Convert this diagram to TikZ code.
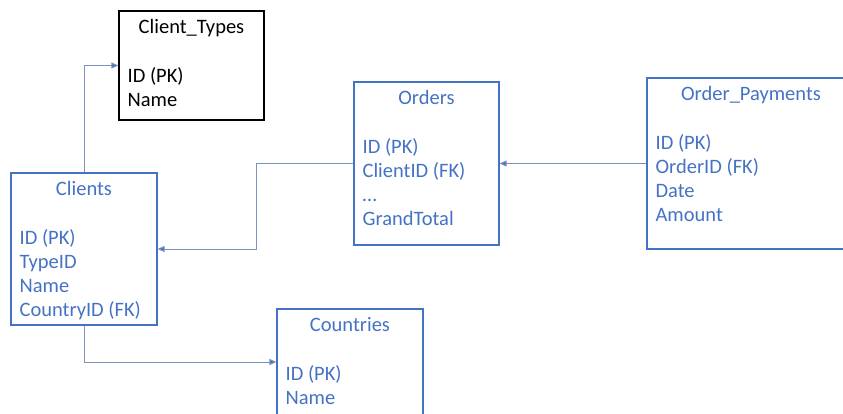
\documentclass[tikz,border=0pt]{standalone}
\usepackage{fontspec}
\setmainfont{Carlito}
\usetikzlibrary{arrows.meta}
\definecolor{tblue}{RGB}{68,114,196}
\definecolor{lblue}{RGB}{125,145,190}
\tikzset{
  tbl/.style={draw=tblue, line width=1.2pt, inner sep=0pt},
  title/.style={anchor=base, inner sep=0pt, text=tblue, font=\fontsize{20.5}{24}\selectfont},
  field/.style={anchor=base west, inner sep=0pt, text=tblue, font=\fontsize{20.5}{24}\selectfont},
  link/.style={draw=lblue, line width=0.9pt, -{Triangle[length=7pt,width=6pt,fill=tblue]}},
}
\begin{document}
\begin{tikzpicture}[x=1pt,y=-1pt]

\clip (0,0) rectangle (843,414);

% tables
\node[tbl, draw=black, minimum width=145pt, minimum height=109pt] (ctypes) at (191.5,65.5) {};
\node[tbl, minimum width=146pt, minimum height=152pt] (clients) at (84,249) {};
\node[tbl, minimum width=145pt, minimum height=163pt] (orders) at (426.5,163.5) {};
\node[tbl, minimum width=208pt, minimum height=171pt] (payments) at (751,163.5) {};
\node[tbl, minimum width=146pt, minimum height=106pt] (countries) at (350,362) {};

\node[title, text=black] (ctypesT) at ([yshift=-23pt]ctypes.north) {Client\_Types};
\node[title] (clientsT) at ([yshift=-23pt]clients.north) {Clients};
\node[title] (ordersT) at ([yshift=-23pt]orders.north) {Orders};
\node[title] (paymentsT) at ([yshift=-23pt]payments.north) {Order\_Payments};
\node[title] (countriesT) at ([yshift=-23pt]countries.north) {Countries};

\foreach \txt [count=\i] in {ID (PK),Name}
  \node[field, text=black] (ctypes\i) at ([xshift=9pt,yshift={-72pt-24pt*(\i-1)}]ctypes.north west) {\txt};
\foreach \txt [count=\i] in {ID (PK),TypeID,Name,CountryID (FK)}
  \node[field] (clients\i) at ([xshift=9pt,yshift={-72pt-24pt*(\i-1)}]clients.north west) {\txt};
\foreach \txt [count=\i] in {ID (PK),ClientID (FK),\dots,GrandTotal}
  \node[field] (orders\i) at ([xshift=9pt,yshift={-72pt-24pt*(\i-1)}]orders.north west) {\txt};
\foreach \txt [count=\i] in {ID (PK),OrderID (FK),Date,Amount}
  \node[field] (payments\i) at ([xshift=9pt,yshift={-72pt-24pt*(\i-1)}]payments.north west) {\txt};
\foreach \txt [count=\i] in {ID (PK),Name}
  \node[field] (countries\i) at ([xshift=9pt,yshift={-72pt-24pt*(\i-1)}]countries.north west) {\txt};

% links
\coordinate (bend) at (256,163.5);
\draw[link] (clients.north) |- (ctypes.west);
\draw[link] (orders.west) -- (bend) |- (clients.east);
\draw[link] (payments.west) -- (orders.east);
\draw[link] (clients.south) |- (countries.west);

\end{tikzpicture}
\end{document}
